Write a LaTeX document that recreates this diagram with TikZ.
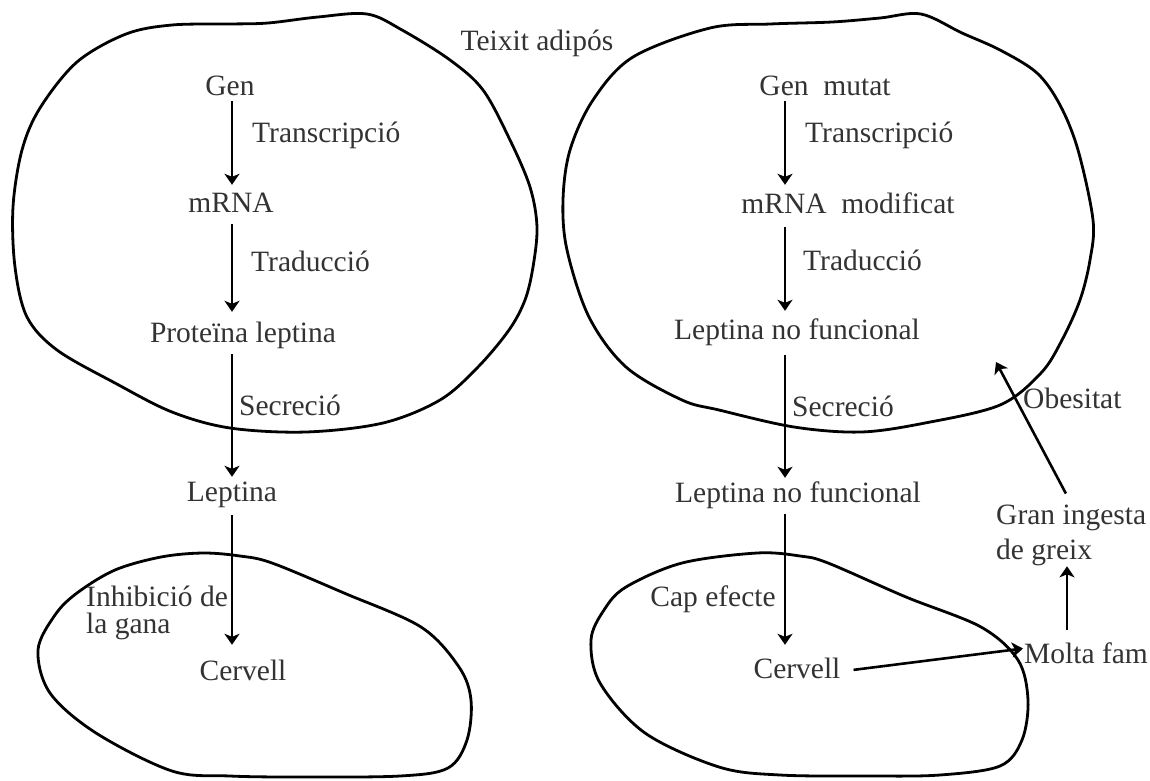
\documentclass[tikz,border=0pt]{standalone}
\usepackage{fontspec}
\setmainfont{Liberation Serif}
\usetikzlibrary{arrows.meta,calc}
\begin{document}
\begin{tikzpicture}[x=1pt,y=-1pt,
  lbl/.style={inner sep=0pt, text height=20pt, text depth=7pt, text=black!80, font=\fontsize{29.5}{27}\selectfont},
  mlbl/.style={inner sep=0pt, align=left, text=black!80},
  blob/.style={draw=black, line width=2.8pt, line join=round},
  arr/.style={draw=black, line width=2.6pt, -{Stealth[length=11pt,width=15pt,inset=3pt]}},
]
\fill[white] (0,0) rectangle (1150,780);
\useasboundingbox (0,0) rectangle (1150,780);

% outlines
\draw[blob] plot[smooth cycle, tension=0.55] coordinates {
 (13,207) (22,150) (40,108) (77,62) (126,34) (172,25) (230,24) (268,23) (318,17) (367,14)
 (402,30) (450,60) (483,90) (510,140) (530,187) (537,227) (533,267) (525,300) (509,330)
 (478,367) (440,400) (383,423) (306,432) (230,428) (172,412) (115,383) (57,350) (27,317) (15,267)};
\draw[blob] plot[smooth cycle, tension=0.55] coordinates {
 (563,200) (570,150) (593,100) (633,57) (710,28) (770,24) (832,22) (880,18) (921,14) (962,33)
 (1000,50) (1037,73) (1060,105) (1078,150) (1093,220) (1090,260) (1080,300) (1062,340)
 (1041,373) (1000,405) (925,423) (861,432) (794,427) (719,410) (682,400) (626,367) (589,317) (567,250)};
\draw[blob] plot[smooth cycle, tension=0.55] coordinates {
 (38,650) (55,615) (77,593) (115,570) (161,557) (203,553) (240,556) (272,563) (344,593)
 (421,627) (459,667) (471,700) (467,740) (448,768) (400,776) (300,777) (230,776) (172,771) (96,733) (50,693)};
\draw[blob] plot[smooth cycle, tension=0.55] coordinates {
 (591,640) (604,610) (626,587) (682,563) (757,553) (800,556) (828,563) (906,597) (981,627)
 (1018,660) (1028,700) (1022,740) (1000,766) (940,775) (869,776) (780,775) (719,767) (645,733) (600,683)};

% labels
\node[lbl, anchor=base] (teixit) at (537,50) {Teixit adipós};
\node[lbl, anchor=base] (gen) at (230,95) {Gen};
\node[lbl, anchor=base west] (transL) at (252,142) {Transcripció};
\node[lbl, anchor=base] (mrna) at (231,212) {mRNA};
\node[lbl, anchor=base west] (tradL) at (251,271) {Traducció};
\node[lbl, anchor=base] (prot) at (243,342) {Proteïna leptina};
\node[lbl, anchor=base west] (secrL) at (239,415) {Secreció};
\node[lbl, anchor=base] (lepL) at (232,501) {Leptina};
\node[mlbl, anchor=north west, font=\fontsize{29.5}{27}\selectfont] (inhib) at (86,586) {Inhibició de\\la gana};
\node[lbl, anchor=base] (cervL) at (243,680) {Cervell};

\node[lbl, anchor=base] (genm) at (825,95) {Gen\ \ mutat};
\node[lbl, anchor=base west] (transR) at (805,142) {Transcripció};
\node[lbl, anchor=base] (mrnam) at (848,213) {mRNA\ \ modificat};
\node[lbl, anchor=base west] (tradR) at (803,270) {Traducció};
\node[lbl, anchor=base] (lnf1) at (797,339) {Leptina no funcional};
\node[lbl, anchor=base west] (secrR) at (792,416) {Secreció};
\node[lbl, anchor=base] (lnf2) at (798,502) {Leptina no funcional};
\node[lbl, anchor=base] (cap) at (713,606) {Cap efecte};
\node[lbl, anchor=base] (cervR) at (797,678) {Cervell};
\node[lbl, anchor=base west] (molta) at (1024,663) {Molta fam};
\node[mlbl, anchor=north west, font=\fontsize{29.5}{35}\selectfont] (gran) at (996,505) {Gran ingesta\\de greix};
\node[lbl, anchor=base west] (obes) at (1023,408) {Obesitat};

% columns and free end
\coordinate (colL) at (232,0);
\coordinate (colR) at (785,0);
\coordinate (colF) at (1067,0);
\coordinate (colO) at (1072,0);
\coordinate (obtip) at (996,362);

% arrows
\draw[arr, shorten <=-1pt, shorten >=7pt] (gen.south -| colL) -- (mrna.north -| colL);
\draw[arr, shorten <=5pt, shorten >=10pt] (mrna.south -| colL) -- (prot.north -| colL);
\draw[arr, shorten <=5pt, shorten >=4pt] (prot.south -| colL) -- (lepL.north -| colL);
\draw[arr, shorten <=7pt, shorten >=15pt] (lepL.south -| colL) -- (cervL.north -| colL);

\draw[arr, shorten <=-1pt, shorten >=8pt] (genm.south -| colR) -- (mrnam.north -| colR);
\draw[arr, shorten <=7pt, shorten >=8pt] (mrnam.south -| colR) -- (lnf1.north -| colR);
\draw[arr, shorten <=9pt, shorten >=4pt] (lnf1.south -| colR) -- (lnf2.north -| colR);
\draw[arr, shorten <=5pt, shorten >=13pt] (lnf2.south -| colR) -- (cervR.north -| colR);

\draw[arr, shorten <=13pt] (cervR.east) -- ($(molta.west)+(-1,-8)$);
\draw[arr, shorten <=13pt] (molta.north -| colF) -- (gran.south -| colF);
\draw[arr, shorten <=13pt] (gran.north -| colO) -- (obtip);
\end{tikzpicture}
\end{document}
